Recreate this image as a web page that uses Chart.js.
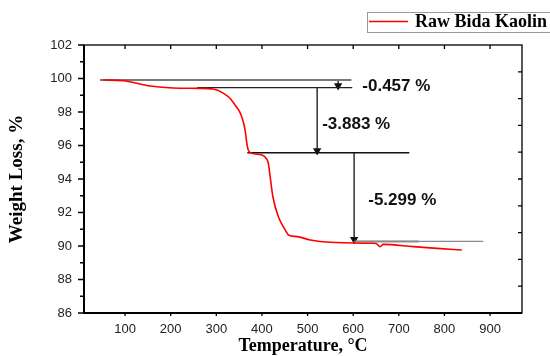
<!DOCTYPE html>
<html>
<head>
<meta charset="utf-8">
<script src="https://cdn.jsdelivr.net/npm/chart.js@4.4.1/dist/chart.umd.min.js"></script>
<style>
  html, body { margin: 0; padding: 0; background: #fff; }
  #wrap { width: 550px; height: 356px; }
</style>
</head>
<body>
<div id="wrap"><canvas id="tgaChart"></canvas></div>
<script>
// TGA curve
const temps = [52, 96, 155, 205, 264, 293, 315, 330, 341, 351, 358, 363, 367, 370, 378, 400, 409, 414,
  418, 424, 436, 451, 458, 477, 506, 550, 644, 650, 659, 666, 732, 784, 838];
const weights = [99.91, 99.87, 99.55, 99.43, 99.41, 99.37, 99.13, 98.82, 98.42, 98.02, 97.52, 96.93, 96.13, 95.73, 95.53, 95.43, 95.24, 94.94,
  94.14, 92.94, 91.75, 90.96, 90.66, 90.56, 90.36, 90.22, 90.16, 90.15, 89.96, 90.10, 89.96, 89.86, 89.76];

// step construction lines
const stepLevels = [99.91, 99.453, 95.57, 90.271];
const stepStart = [45, 258, 368, 602];
const stepEnd = [596, 598, 723, 885];
const stepColors = ['#7a7a7a', '#222222', '#111111', '#8a8a8a'];
const stepWidths = [2, 1.2, 1.5, 1.2];
const overlayEnd = 743;

// arrows between steps
const arrowX = [567, 521, 602];
const lossLabels = ['-0.457 %', '-3.883 %', '-5.299 %'];
const labelX = [620, 532, 633];
const labelY = [99.55, 97.28, 92.75];

const xTicks = [100, 200, 300, 400, 500, 600, 700, 800, 900];
const yMinorTicks = [87, 89, 91, 93, 95, 97, 99, 101];
const rightTicks = [87.6, 89.2, 90.8, 92.4, 94, 95.6, 97.2, 98.8, 100.4];

const datasets = [{
  label: 'Raw Bida Kaolin',
  data: temps.map((t, i) => ({ x: t, y: weights[i] })),
  borderColor: '#ff0000',
  borderWidth: 1.6,
  pointRadius: 0,
  cubicInterpolationMode: 'monotone',
  order: 0
}];

stepLevels.forEach((lvl, i) => {
  datasets.push({
    data: [{ x: stepStart[i], y: lvl }, { x: stepEnd[i], y: lvl }],
    borderColor: stepColors[i],
    borderWidth: stepWidths[i],
    pointRadius: 0,
    order: 1
  });
});
datasets.push({
  data: [{ x: stepStart[3], y: stepLevels[3] }, { x: overlayEnd, y: stepLevels[3] }],
  borderColor: '#222',
  borderWidth: 1.5,
  pointRadius: 0,
  order: 1
});
arrowX.forEach((ax, i) => {
  datasets.push({
    data: [{ x: ax, y: stepLevels[i] }, { x: ax, y: stepLevels[i + 1] + 0.12 }],
    borderColor: '#111',
    backgroundColor: '#111',
    borderWidth: 1.3,
    pointStyle: 'triangle',
    rotation: 180,
    pointRadius: [0, 3.5],
    order: 1
  });
});

const framePlugin = {
  id: 'frame',
  afterDraw(chart) {
    const { ctx, chartArea: a, scales: { x, y } } = chart;
    ctx.save();
    ctx.strokeStyle = '#000';
    ctx.lineWidth = 1.3;
    ctx.strokeRect(a.left, a.top, a.right - a.left, a.bottom - a.top);
    ctx.lineWidth = 2;
    ctx.beginPath();
    ctx.moveTo(a.left, a.top); ctx.lineTo(a.left, a.bottom); ctx.lineTo(a.right, a.bottom);
    ctx.stroke();
    ctx.lineWidth = 1.3;
    ctx.beginPath();
    y.ticks.forEach(t => {
      const py = y.getPixelForValue(t.value);
      ctx.moveTo(a.left, py); ctx.lineTo(a.left - 6, py);
    });
    yMinorTicks.forEach(v => {
      const py = y.getPixelForValue(v);
      ctx.moveTo(a.left, py); ctx.lineTo(a.left - 4, py);
    });
    rightTicks.forEach(v => {
      const py = y.getPixelForValue(v);
      ctx.moveTo(a.right, py); ctx.lineTo(a.right - 4, py);
    });
    xTicks.forEach(v => {
      const px = x.getPixelForValue(v);
      ctx.moveTo(px, a.bottom); ctx.lineTo(px, a.bottom + 3);
      ctx.moveTo(px, a.top); ctx.lineTo(px, a.top + 4);
    });
    ctx.stroke();

    // loss labels
    ctx.fillStyle = '#111';
    ctx.font = 'bold 17px "Liberation Sans", Arial, sans-serif';
    ctx.textBaseline = 'middle';
    ctx.textAlign = 'left';
    lossLabels.forEach((txt, i) => {
      ctx.fillText(txt, x.getPixelForValue(labelX[i]), y.getPixelForValue(labelY[i]));
    });

    // legend box
    ctx.strokeStyle = '#999';
    ctx.lineWidth = 1;
    ctx.strokeRect(367.5, 12.5, 210, 20);
    ctx.strokeStyle = '#ff0000';
    ctx.lineWidth = 1.5;
    ctx.beginPath(); ctx.moveTo(369, 21.5); ctx.lineTo(408, 21.5); ctx.stroke();
    ctx.fillStyle = '#000';
    ctx.font = 'bold 18px "Liberation Serif", "Times New Roman", serif';
    ctx.fillText(chart.data.datasets[0].label, 415, 22.5);
    ctx.restore();
  }
};

new Chart(document.getElementById('tgaChart'), {
  type: 'line',
  data: { datasets },
  options: {
    responsive: true,
    maintainAspectRatio: false,
    animation: false,
    layout: { padding: { top: 45, right: 28, left: 0, bottom: 0 } },
    plugins: { legend: { display: false }, tooltip: { enabled: false } },
    scales: {
      x: {
        type: 'linear',
        min: 10,
        max: 970,
        afterBuildTicks: s => { s.ticks = xTicks.map(v => ({ value: v })); },
        afterFit: s => { s.height = 43; },
        grid: { display: false, drawTicks: false },
        border: { display: false },
        ticks: {
          padding: 9,
          color: '#222',
          font: { family: '"Liberation Sans", Arial, sans-serif', size: 13 }
        },
        title: {
          display: true,
          text: 'Temperature, °C',
          color: '#000',
          padding: { top: 0, bottom: -1 },
          font: { family: '"Liberation Serif", "Times New Roman", serif', size: 18, weight: 'bold' }
        }
      },
      y: {
        min: 86,
        max: 102,
        afterFit: s => { s.width = 84; },
        grid: { display: false, drawTicks: false },
        border: { display: false },
        ticks: {
          stepSize: 2,
          padding: 12,
          color: '#222',
          font: { family: '"Liberation Sans", Arial, sans-serif', size: 13 }
        },
        title: {
          display: true,
          text: 'Weight Loss, %',
          color: '#000',
          padding: { top: 6, bottom: 0 },
          font: { family: '"Liberation Serif", "Times New Roman", serif', size: 19, weight: 'bold' }
        }
      }
    }
  },
  plugins: [framePlugin]
});
</script>
</body>
</html>
